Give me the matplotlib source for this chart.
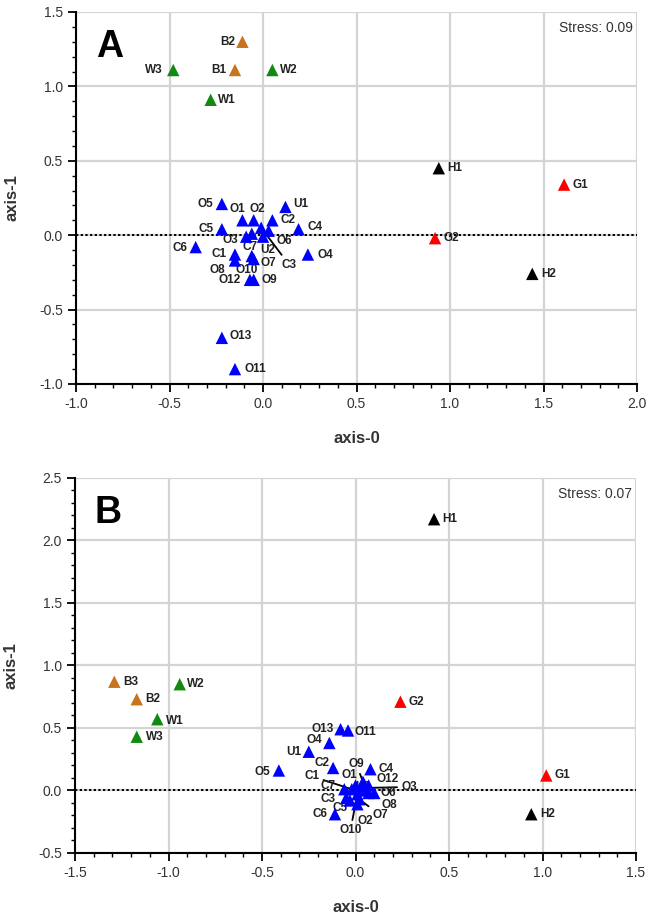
import matplotlib
matplotlib.use('Agg')
import matplotlib.pyplot as plt
from matplotlib.ticker import MultipleLocator, FormatStrFormatter

# panel A (stress 0.09)
names_a = ['B1', 'B2', 'W1', 'W2', 'W3', 'G1', 'G2', 'H1', 'H2',
           'O1', 'O2', 'O3', 'O4', 'O5', 'O6', 'O7', 'O8', 'O9', 'O10', 'O11', 'O12', 'O13',
           'C1', 'C2', 'C3', 'C4', 'C5', 'C6', 'C7', 'U1', 'U2']
x_a = [-0.15, -0.11, -0.28, 0.05, -0.48, 1.61, 0.92, 0.94, 1.44,
       -0.11, -0.05, -0.09, 0.24, -0.22, 0.03, -0.06, -0.15, -0.05, -0.05, -0.15, -0.07, -0.22,
       -0.15, 0.05, -0.01, 0.19, -0.22, -0.36, -0.06, 0.12, 0.00]
y_a = [1.11, 1.30, 0.91, 1.11, 1.11, 0.34, -0.02, 0.45, -0.26,
       0.10, 0.10, -0.01, -0.13, 0.21, 0.03, -0.14, -0.17, -0.30, -0.16, -0.90, -0.30, -0.69,
       -0.13, 0.10, 0.05, 0.04, 0.04, -0.08, 0.01, 0.19, -0.01]

# panel B (stress 0.07)
names_b = ['B2', 'B3', 'W1', 'W2', 'W3', 'G1', 'G2', 'H1', 'H2',
           'O1', 'O2', 'O3', 'O4', 'O5', 'O6', 'O7', 'O8', 'O9', 'O10', 'O11', 'O12', 'O13',
           'C1', 'C2', 'C3', 'C4', 'C5', 'C6', 'C7', 'U1', 'U2']
x_b = [-1.17, -1.29, -1.06, -0.94, -1.17, 1.02, 0.24, 0.42, 0.94,
       0.00, 0.01, 0.04, -0.14, -0.41, 0.10, 0.02, 0.07, 0.04, 0.01, -0.04, 0.07, -0.08,
       -0.02, -0.12, -0.05, 0.08, -0.03, -0.11, -0.06, -0.25, 0.03]
y_b = [0.73, 0.87, 0.57, 0.85, 0.43, 0.12, 0.71, 2.17, -0.19,
       0.04, -0.11, 0.02, 0.38, 0.16, -0.02, -0.07, -0.02, 0.07, -0.03, 0.48, 0.04, 0.49,
       0.01, 0.18, -0.06, 0.17, -0.08, -0.19, 0.01, 0.31, 0.00]

group_colors = {'O': '#0000ff', 'C': '#0000ff', 'U': '#0000ff',
                'W': '#128a12', 'B': '#c8741e', 'G': '#ff0000', 'H': '#000000'}

# label offsets in pixels (dx, dy); names in lead_* get a leader line
offs_a = {'B2': (-15, 0), 'W3': (-19, 0), 'B1': (-16, 0), 'O5': (-16, 0), 'C5': (-16, 0),
          'O1': (-5, 11), 'O2': (4, 11), 'O3': (-16, -3), 'C7': (-2, -13), 'U2': (5, -13),
          'O6': (16, -10), 'C6': (-16, -1), 'C1': (-16, 1), 'O8': (-18, -10), 'O10': (-7, -11),
          'O7': (17, -7), 'C3': (28, -37), 'O12': (-20, 0), 'O13': (19, 2), 'O11': (20, 0),
          'U1': (15, 3), 'C4': (16, 2), 'O4': (17, 0)}
lead_a = {'C3'}
offs_b = {'O13': (-18, 0), 'O11': (17, -2), 'O4': (-15, 3), 'U1': (-15, 0), 'C2': (-11, 5),
          'O5': (-16, -2), 'O9': (-7, 18), 'O1': (-6, 10), 'C1': (-40, 13), 'C7': (-16, 3),
          'O12': (19, 6), 'O3': (46, 1), 'O6': (14, 0), 'O8': (21, -12), 'C3': (-18, -1),
          'O7': (21, -16), 'C5': (-10, -8), 'O2': (8, -17), 'C6': (-15, 0), 'O10': (-7, -36),
          'U2': (2, 3), 'W1': (18, -2), 'W3': (18, 0)}
lead_b = {'O9', 'C1', 'O3', 'O8', 'O7', 'O10'}

plt.rcParams['font.family'] = ['Liberation Sans', 'DejaVu Sans']


def draw_panel(ax, names, xs, ys, offs, leads, xlim, ylim, letter, stress):
    ax.set_xlim(*xlim)
    ax.set_ylim(*ylim)
    ax.xaxis.set_major_locator(MultipleLocator(0.5))
    ax.xaxis.set_minor_locator(MultipleLocator(0.1))
    ax.yaxis.set_major_locator(MultipleLocator(0.5))
    ax.yaxis.set_minor_locator(MultipleLocator(0.1))
    ax.xaxis.set_major_formatter(FormatStrFormatter('%.1f'))
    ax.yaxis.set_major_formatter(FormatStrFormatter('%.1f'))
    ax.grid(True, which='major', color='#d4d4d4', lw=1.6, zorder=0)
    ax.set_axisbelow(True)
    for s in ('top', 'right'):
        ax.spines[s].set_visible(False)
    for s in ('left', 'bottom'):
        ax.spines[s].set_linewidth(1.5)
    ax.tick_params(which='major', direction='out', length=6, width=1.3,
                   labelsize=10, labelcolor='#333333')
    ax.tick_params(which='minor', direction='out', length=3, width=1.0)
    ax.axhline(0, color='black', ls=(0, (1.2, 1.2)), lw=1.4, zorder=1)

    cols = [group_colors[n[0]] for n in names]
    ax.scatter(xs, ys, marker='^', s=80, c=cols, edgecolors='none', zorder=4, clip_on=False)
    for n, x, y in zip(names, xs, ys):
        dx, dy = offs.get(n, (16, 0))
        kw = {}
        if n in leads:
            kw['arrowprops'] = dict(arrowstyle='-', color='black', lw=1.3,
                                    shrinkA=1, shrinkB=0)
        ax.annotate(n, (x, y), xytext=(dx, dy), textcoords='offset pixels',
                    ha='center', va='center', fontsize=8.5, fontweight='bold',
                    color='#222222', zorder=3, **kw)

    ax.text(0.035, 0.955, letter, transform=ax.transAxes, fontsize=27,
            fontweight='bold', ha='left', va='top')
    ax.text(0.993, 0.975, f'Stress: {stress}', transform=ax.transAxes, fontsize=10,
            ha='right', va='top', color='#333333')
    ax.set_xlabel('axis-0', fontsize=12, fontweight='bold', color='#333333', labelpad=14)
    ax.set_ylabel('axis-1', fontsize=12, fontweight='bold', color='#333333', labelpad=14)


fig = plt.figure(figsize=(6.53, 9.16), dpi=100)
ax_a = fig.add_axes([0.1164, 0.5808, 0.8591, 0.4061])
ax_b = fig.add_axes([0.1149, 0.0688, 0.8591, 0.4094])

draw_panel(ax_a, names_a, x_a, y_a, offs_a, lead_a, (-1.0, 2.0), (-1.0, 1.5), 'A', '0.09')
draw_panel(ax_b, names_b, x_b, y_b, offs_b, lead_b, (-1.5, 1.5), (-0.5, 2.5), 'B', '0.07')

fig.savefig('out.png', dpi=100)
